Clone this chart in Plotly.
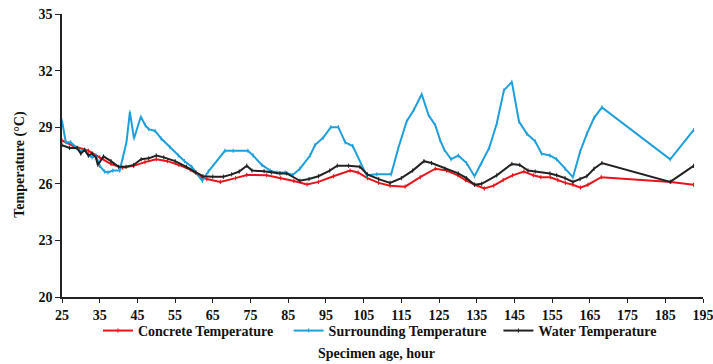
import plotly.graph_objects as go

# Concrete temperature (red)
concrete_h = [25, 28, 32, 35, 38, 41, 44, 47, 50, 53, 56, 59, 62, 63.4, 67, 71, 74, 79.3, 83, 86.5, 90, 93,
              97, 101.4, 103.5, 106, 109, 112, 116, 120, 124, 127, 130, 132, 134.5, 137, 139.5, 142, 144.5,
              147.5, 150, 152, 154.5, 156.5, 158.5, 160.5, 162.5, 164.5, 168, 186.5, 192.5]
concrete_t = [28.3, 28.0, 27.75, 27.4, 27.05, 26.85, 26.95, 27.15, 27.3, 27.2, 27.0, 26.75, 26.35,
              26.25, 26.1, 26.3, 26.47, 26.45, 26.3, 26.15, 25.97, 26.1, 26.4, 26.7, 26.6, 26.3, 26.05,
              25.9, 25.85, 26.35, 26.8, 26.7, 26.45, 26.2, 25.95, 25.75, 25.9, 26.2, 26.45, 26.65,
              26.45, 26.35, 26.35, 26.2, 26.05, 25.95, 25.8, 25.95, 26.35, 26.1, 25.95]

# Surrounding temperature (blue)
surround_h = [25, 26, 27.3, 29, 30, 31, 32, 33, 34, 35, 36.3, 37.2, 38.5, 40.3, 41.2, 42.1, 43, 44.1,
              45.9, 47.1, 48, 49.7, 51.3, 53.6, 55.8, 57.5, 59.4, 62.2, 63.8, 68.2, 70.4, 74.3, 75.7,
              78, 80.2, 82, 84.2, 86.2, 88.1, 90.8, 92.1, 94.3, 96.3, 98.3, 100.1, 102.1, 105.8, 108.5,
              112.3, 114.2, 116.4, 118.4, 120.4, 122.2, 124, 125.3, 126.4, 128.2, 130.1, 132.3, 134.4,
              136.3, 138.3, 140.3, 142.2, 144.3, 146.2, 148.3, 150.5, 152.2, 154.4, 156.2, 158.4,
              160.5, 162.4, 164.2, 166.1, 168.2, 186.3, 192.5]
surround_t = [29.35, 28.2, 28.2, 27.9, 27.7, 27.8, 27.5, 27.4, 27.5, 26.95, 26.65, 26.6, 26.7, 26.7,
              27.4, 28.2, 29.8, 28.4, 29.55, 29.1, 28.9, 28.8, 28.4, 27.95, 27.5, 27.2, 26.9, 26.16,
              26.65, 27.75, 27.75, 27.75, 27.5, 27.0, 26.7, 26.6, 26.6, 26.47, 26.8, 27.5, 28.05,
              28.45, 29.0, 29.0, 28.2, 28.0, 26.45, 26.5, 26.5, 27.9, 29.3, 29.95, 30.75, 29.65,
              29.1, 28.3, 27.8, 27.3, 27.5, 27.1, 26.4, 27.1, 27.9, 29.2, 30.95, 31.4, 29.3, 28.65,
              28.25, 27.6, 27.5, 27.3, 26.8, 26.35, 27.7, 28.65, 29.5, 30.05, 27.3, 28.85]

# Water temperature (black)
water_h = [25, 27, 29, 30, 31, 32, 33, 34, 34.5, 36, 38, 40, 42, 44, 46, 48, 50, 52, 55, 58, 60.5, 62.4,
           65, 67.8, 70, 72, 74, 75.4, 78.6, 80.5, 82.8, 84.6, 88.1, 90.5, 93, 96, 98, 101, 104, 106, 109,
           112, 115, 118, 121, 123, 126.6, 130.1, 132.3, 134.4, 136.3, 140.3, 144.3, 146.4, 148.6,
           150.5, 154.4, 156.2, 158.4, 160.5, 162.4, 164.2, 166.1, 168.2, 186.3, 192.5]
water_t = [28.05, 27.9, 27.9, 27.6, 27.8, 27.5, 27.6, 27.4, 27.0, 27.45, 27.2, 26.9, 26.9, 27.0,
           27.3, 27.35, 27.5, 27.4, 27.2, 26.9, 26.6, 26.4, 26.38, 26.38, 26.5, 26.65, 26.96, 26.7,
           26.67, 26.6, 26.55, 26.55, 26.16, 26.25, 26.4, 26.7, 26.96, 26.96, 26.9, 26.5, 26.25,
           26.05, 26.3, 26.7, 27.2, 27.1, 26.8, 26.55, 26.3, 25.95, 26.0, 26.45, 27.05, 27.0,
           26.7, 26.65, 26.55, 26.45, 26.3, 26.1, 26.25, 26.4, 26.8, 27.1, 26.1, 26.95]

series_names = ["Concrete Temperature", "Surrounding Temperature", "Water Temperature"]
x_ticks = list(range(25, 196, 10))
y_ticks = [20, 23, 26, 29, 32, 35]

FONT = "Liberation Serif"
pads = ["&nbsp;" * 3, "&nbsp;" * 2, ""]
colors = ["#E8141B", "#1E9FDC", "#222222"]
xs = [concrete_h, surround_h, water_h]
ys = [concrete_t, surround_t, water_t]

fig = go.Figure()
for name, pad, col, x, y in zip(series_names, pads, colors, xs, ys):
    fig.add_trace(go.Scatter(x=x, y=y, name=f"<b>{name}</b>{pad}",
                             mode="lines+markers", line=dict(color=col, width=2),
                             marker=dict(symbol="line-ns-open", size=3, color=col,
                                         line=dict(width=1, color=col))))

fig.update_layout(
    width=713, height=364,
    margin=dict(l=62, r=10, t=14, b=67, autoexpand=False),
    paper_bgcolor="white", plot_bgcolor="white",
    font=dict(family=FONT, size=14, color="#111111"),
    showlegend=True,
    legend=dict(orientation="h", x=0.496, xanchor="center", y=-0.12, yanchor="middle",
                font=dict(family=FONT, size=14, color="#111111"), itemwidth=30,
                bgcolor="rgba(0,0,0,0)"),
    xaxis=dict(range=[25, 195], tickvals=x_ticks, ticktext=[f"<b>{v}</b>" for v in x_ticks],
               showgrid=False, zeroline=False, showline=True, linecolor="#222222", linewidth=1.5,
               ticks="outside", ticklen=4, tickcolor="#222222", ticklabeloverflow="allow",
               automargin=False, tickfont=dict(family=FONT, size=14)),
    yaxis=dict(range=[20, 35], tickvals=y_ticks, ticktext=[f"<b>{v}</b>" for v in y_ticks],
               showgrid=False, zeroline=False, showline=True, linecolor="#222222", linewidth=1.5,
               ticks="outside", ticklen=5, tickcolor="#222222", automargin=False,
               tickfont=dict(family=FONT, size=14)),
    annotations=[
        dict(text="<b>Temperature (°C)</b>", xref="paper", yref="paper", x=-0.066, y=0.47,
             xanchor="center", yanchor="middle", textangle=-90, showarrow=False,
             font=dict(family=FONT, size=14)),
        dict(text="<b>Specimen age, hour</b>", xref="paper", yref="paper", x=0.49, y=-0.2,
             xanchor="center", yanchor="middle", showarrow=False,
             font=dict(family=FONT, size=14)),
    ],
)

fig.write_html("out.html")
